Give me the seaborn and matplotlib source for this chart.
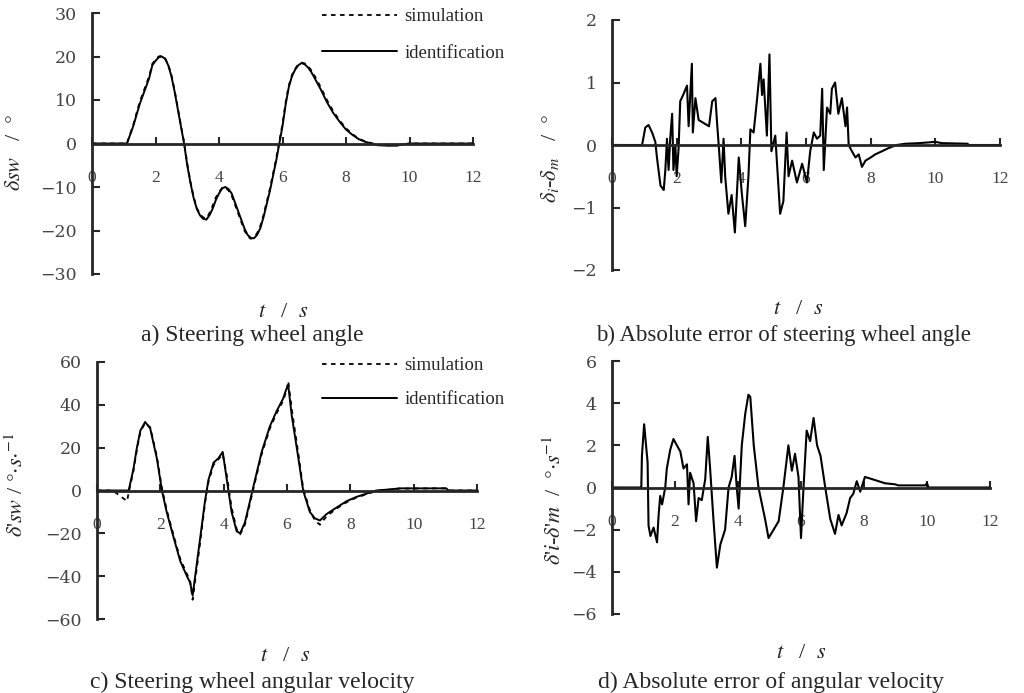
import numpy as np
import pandas as pd
import matplotlib
matplotlib.use("Agg")
import matplotlib.pyplot as plt
import seaborn as sns

# ---- a) steering wheel angle (deg) ----
t_a = [0, 0.5, 1.0, 1.1, 1.3, 1.5, 1.65, 1.8, 1.9, 2.0, 2.1, 2.2, 2.3, 2.4, 2.5, 2.6, 2.7, 2.8,
       2.9, 3.0, 3.1, 3.2, 3.3, 3.4, 3.5, 3.6, 3.7, 3.8, 3.9, 4.0, 4.1, 4.2, 4.3, 4.4, 4.5, 4.6,
       4.7, 4.8, 4.9, 5.0, 5.1, 5.2, 5.3, 5.4, 5.5, 5.6, 5.7, 5.8, 5.9, 6.0, 6.1, 6.2, 6.3, 6.4,
       6.5, 6.6, 6.7, 6.8, 6.9, 7.0, 7.2, 7.4, 7.6, 7.8, 8.0, 8.2, 8.4, 8.6, 8.8, 9.0, 9.3, 9.6,
       9.8, 10.0, 11.0, 12.0]
ident_a = [0, 0, 0, 0, 4, 9, 12, 15, 18, 19, 19.8, 20, 19.5, 18, 15.5, 12, 8, 4,
           0, -5, -9, -12.5, -15, -16.5, -17.3, -17.5, -16.5, -15, -13, -11.5, -10.3, -10, -10.5, -11.5, -13.5, -15.5,
           -17.5, -19.5, -21, -21.7, -21.8, -21, -19.5, -17, -14, -11, -7.5, -4, 0, 4, 9, 13, 15.5, 17,
           18, 18.5, 18.2, 17.5, 16.5, 15.2, 12.5, 9.5, 7, 5, 3.2, 2, 1, 0.4, 0, -0.4, -0.5, -0.5,
           -0.2, 0, 0, 0]
sim_a = [0, 0, 0, 0, 4.3, 9.5, 12.5, 15.5, 18.3, 19.3, 20, 20.2, 19.6, 18.2, 15.8, 12.3, 8.3, 4.2,
         0.3, -4.6, -8.8, -12.2, -14.8, -16.2, -17, -17.2, -16, -14.3, -12.4, -11.2, -10.2, -10.1, -10.8, -12, -14, -16,
         -18, -20, -21.3, -21.9, -21.6, -20.6, -19, -16.5, -13.5, -10.5, -7, -3.5, 0.5, 4.5, 9.5, 13.4, 15.8, 17.2,
         18.2, 18.6, 18.4, 17.8, 16.9, 15.7, 13, 10, 7.4, 5.3, 3.5, 2.2, 1.1, 0.5, 0.1, -0.3, -0.4, -0.4,
         -0.2, 0, 0, 0]

# ---- b) absolute error of steering wheel angle (deg) ----
t_b = [0, 0.93, 1.03, 1.13, 1.24, 1.34, 1.39, 1.5, 1.6, 1.65, 1.7, 1.75, 1.8, 1.86, 1.9, 1.96,
       2.0, 2.06, 2.11, 2.2, 2.32, 2.37, 2.47, 2.5, 2.58, 2.68, 2.84, 3.0, 3.1, 3.2, 3.25, 3.3,
       3.38, 3.45, 3.5, 3.6, 3.7, 3.8, 3.92, 4.02, 4.12, 4.22, 4.28, 4.38, 4.48, 4.59, 4.64, 4.69,
       4.79, 4.87, 4.93, 5.05, 5.2, 5.3, 5.4, 5.46, 5.57, 5.72, 5.88, 6.03, 6.13, 6.24, 6.34, 6.44,
       6.5, 6.55, 6.65, 6.75, 6.8, 6.9, 7.0, 7.11, 7.22, 7.27, 7.32, 7.42, 7.53, 7.63, 7.73, 7.84,
       8.0, 8.14, 8.35, 8.55, 8.8, 9.07, 9.5, 10.0, 10.2, 11.0, 11.03, 12.0]
err_b = [0, 0, 0.28, 0.32, 0.2, 0.05, -0.2, -0.65, -0.72, -0.4, 0.1, -0.4, 0.1, 0.5, -0.4, 0,
         -0.5, -0.05, 0.7, 0.8, 0.95, 0.3, 1.3, 0.2, 0.75, 0.4, 0.35, 0.3, 0.7, 0.75, 0.35, 0,
         -0.6, 0.1, -0.5, -1.1, -0.8, -1.4, -0.2, -0.8, -1.3, -0.5, 0.25, 0.2, 0.7, 1.3, 0.8, 1.05,
         0.15, 1.45, -0.1, 0.15, -1.1, -0.9, 0.2, -0.5, -0.25, -0.6, -0.3, -0.6, -0.1, 0.2, 0.1, 0.15,
         0.9, -0.4, 0.6, 0.5, 0.9, 1.0, 0.5, 0.75, 0.3, 0.6, 0, -0.1, -0.2, -0.15, -0.35, -0.25,
         -0.2, -0.15, -0.1, -0.05, 0, 0.02, 0.03, 0.05, 0.03, 0.02, 0, 0]

# ---- c) steering wheel angular velocity (deg/s) ----
t_c = [0, 0.5, 0.95, 1.0, 1.15, 1.26, 1.37, 1.52, 1.68, 1.89, 2.05, 2.2, 2.42, 2.63, 2.84, 2.94,
       3.02, 3.1, 3.26, 3.41, 3.52, 3.68, 3.83, 3.97, 4.1, 4.25, 4.41, 4.52, 4.67, 4.83, 4.99, 5.2,
       5.46, 5.67, 5.88, 5.97, 6.04, 6.15, 6.36, 6.51, 6.72, 6.88, 7.04, 7.25, 7.56, 7.88, 8.19, 8.5,
       8.82, 9.24, 9.56, 11.03, 11.1, 12.0]
ident_c = [0, 0, 0, 0, 10, 20, 28, 32, 29, 15, 0, -10, -22, -33, -40, -43,
           -49, -40, -22, -5, 5, 13, 15, 18, 5, -10, -19, -20, -15, -5, 5, 18,
           30, 37, 43, 47, 49, 35, 15, 0, -10, -13, -14, -11, -8, -5, -3, -1.5,
           0, 0.5, 1, 1, 0, 0]
sim_c = [0, 0, -5, -1, 9, 19, 27.5, 31.5, 29.5, 16, 1, -9, -21, -32, -39, -42,
         -51, -42, -24, -6, 4, 12, 14.5, 17, 7, -8, -18, -20.5, -16, -6, 4, 17,
         29, 36, 42, 46, 51, 38, 17, 1, -9, -14, -16, -12, -8.5, -5.5, -3.3, -1.8,
         -0.2, 0.4, 0.9, 1, 0, 0]

# ---- d) absolute error of angular velocity (deg/s) ----
t_d = [0, 0.93, 0.95, 1.02, 1.13, 1.16, 1.22, 1.32, 1.43, 1.48, 1.53, 1.59, 1.69, 1.74, 1.85, 1.95,
       2.06, 2.17, 2.27, 2.38, 2.43, 2.48, 2.59, 2.67, 2.75, 2.85, 2.96, 3.04, 3.11, 3.22, 3.33, 3.44,
       3.59, 3.7, 3.8, 3.89, 3.96, 4.02, 4.12, 4.23, 4.33, 4.39, 4.5, 4.65, 4.86, 4.97, 5.13, 5.29,
       5.44, 5.6, 5.71, 5.81, 5.92, 6.0, 6.08, 6.18, 6.29, 6.4, 6.51, 6.62, 6.77, 6.93, 7.08, 7.19,
       7.29, 7.45, 7.56, 7.66, 7.77, 7.88, 8.03, 8.25, 8.46, 8.67, 8.99, 9.09, 9.94, 10.0, 10.05, 12.0]
err_d = [0, 0, 1.5, 3.0, 1.2, -1.8, -2.3, -1.9, -2.6, -1.3, -0.4, -0.8, 0, 0.9, 1.8, 2.3,
         2.0, 1.7, 0.9, 1.1, -0.8, 0.7, 0.2, -1.6, -0.5, -0.6, 0.4, 2.4, 1.0, -1.5, -3.8, -2.7,
         -2.0, 0, 0.5, 1.5, 0, -1.0, 2.0, 3.5, 4.4, 4.3, 2.0, 0, -1.5, -2.4, -2.0, -1.6,
         0, 2.0, 0.8, 1.6, 0.5, -2.4, 0, 2.7, 2.2, 3.3, 2.0, 1.5, 0, -1.5, -2.2, -1.3,
         -1.8, -1.2, -0.5, -0.3, 0.3, -0.2, 0.5, 0.4, 0.3, 0.2, 0.15, 0.1, 0.1, 0.2, 0, 0]

sns.set_style("ticks")
plt.rcParams['font.family'] = ['Liberation Serif', 'DejaVu Serif']
plt.rcParams['mathtext.fontset'] = 'stix'

fig = plt.figure(figsize=(10.24, 6.93), dpi=100)
W, H = 1024, 693


def make_axes(x0, x1, ytop, ybot):
    return fig.add_axes([x0 / W, (H - ybot) / H, (x1 - x0) / W, (ybot - ytop) / H])


def style_axes(ax, ylim, yticks):
    ax.set_xlim(0, 12)
    ax.set_ylim(*ylim)
    ax.set_xticks(range(0, 13, 2))
    ax.set_xticklabels([str(v) for v in range(0, 13, 2)], family='DejaVu Serif')
    ax.set_yticks(yticks)
    ax.set_yticklabels([str(v).replace('-', '\u2212') for v in yticks], family='DejaVu Serif')
    for s in ['top', 'right']:
        ax.spines[s].set_visible(False)
    ax.spines['bottom'].set_position(('data', 0))
    ax.spines['bottom'].set_linewidth(2)
    ax.spines['left'].set_linewidth(2)
    ax.tick_params(axis='x', direction='in', length=5, width=1.5, labelsize=12.5,
                   labelcolor='#444444', pad=19)
    ax.tick_params(axis='y', direction='in', length=6, width=1.5, labelsize=12.5,
                   labelcolor='#444444', pad=11)
    ax.set_xlabel('')
    ax.set_ylabel('')


ax_a = make_axes(92, 473, 13, 274)
ax_b = make_axes(612, 1000, 20, 270)
ax_c = make_axes(97, 477, 362, 619)
ax_d = make_axes(612, 990, 361, 614)

# panel a
sns.lineplot(x=t_a, y=sim_a, ax=ax_a, color='black', lw=1.3, linestyle=(0, (2.5, 2.5)),
             sort=False, estimator=None, label='simulation')
sns.lineplot(x=t_a, y=ident_a, ax=ax_a, color='black', lw=1.4, sort=False, estimator=None,
             label='identification')
style_axes(ax_a, (-30, 30), [-30, -20, -10, 0, 10, 20, 30])

# panel b
sns.lineplot(x=t_b, y=err_b, ax=ax_b, color='black', lw=1.5, sort=False, estimator=None)
style_axes(ax_b, (-2, 2), [-2, -1, 0, 1, 2])

# panel c
sns.lineplot(x=t_c, y=sim_c, ax=ax_c, color='black', lw=1.3, linestyle=(0, (2.5, 2.5)),
             sort=False, estimator=None, label='simulation')
sns.lineplot(x=t_c, y=ident_c, ax=ax_c, color='black', lw=1.4, sort=False, estimator=None,
             label='identification')
style_axes(ax_c, (-60, 60), [-60, -40, -20, 0, 20, 40, 60])

# panel d
sns.lineplot(x=t_d, y=err_d, ax=ax_d, color='black', lw=1.5, sort=False, estimator=None)
style_axes(ax_d, (-6, 6), [-6, -4, -2, 0, 2, 4, 6])

for ax, x0, x1, h, sp in [(ax_a, 92, 473, 261, 1.05), (ax_c, 97, 477, 257, 0.9)]:
    ax.legend(loc='upper left', bbox_to_anchor=((322 - x0) / (x1 - x0), 1 + 5 / h),
              frameon=False, fontsize=13.5, handlelength=4.0, handletextpad=0.4,
              labelspacing=sp, borderpad=0, borderaxespad=0)

# axis labels and captions
for x, y in [(283, 317), (798, 314), (285, 661), (801, 658)]:
    fig.text(x / W, 1 - y / H, '$t$   /  $s$', ha='center', va='baseline', fontsize=16)

fig.text(252 / W, 1 - 341 / H, 'a) Steering wheel angle', ha='center', va='baseline', fontsize=17)
fig.text(783 / W, 1 - 341 / H, 'b) Absolute error of steering wheel angle', ha='center',
         va='baseline', fontsize=16.5)
fig.text(252 / W, 1 - 688 / H, 'c) Steering wheel angular velocity', ha='center', va='baseline',
         fontsize=17)
fig.text(771 / W, 1 - 688 / H, 'd) Absolute error of angular velocity', ha='center',
         va='baseline', fontsize=17)

fig.text(15 / W, 1 - 152 / H, r'$\delta sw$   /  $\degree$', rotation=90, ha='center',
         va='center', fontsize=16)
fig.text(550 / W, 1 - 158 / H, r'$\delta_i$-$\delta_m$   /  $\degree$', rotation=90,
         ha='center', va='center', fontsize=16)
fig.text(17 / W, 1 - 485 / H, r"$\delta$'$sw$ / $\degree$$\cdot$$s$$\cdot$$^{-1}$", rotation=90,
         ha='center', va='center', fontsize=16)
fig.text(555 / W, 1 - 500 / H, r"$\delta$'$i$-$\delta$'$m$  /  $\degree$$\cdot$$s$$^{-1}$",
         rotation=90, ha='center', va='center', fontsize=16)

fig.savefig('out.png', dpi=100)
